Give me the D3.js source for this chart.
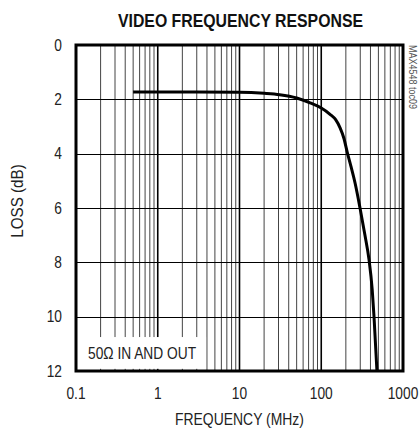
<!DOCTYPE html>
<html>
<head>
<meta charset="utf-8">
<script src="https://cdn.jsdelivr.net/npm/d3@7"></script>
<style>
  body { margin: 0; background: #fff; }
  text { font-family: "Liberation Sans", Arial, sans-serif; fill: #222; }
</style>
</head>
<body>
<div id="chart"></div>
<script>
// curve: frequency (MHz) and loss (dB)
const freq = [0.5, 1, 3, 10, 20, 31, 50, 73, 100, 128, 150, 170, 190, 208, 230, 260, 298, 340, 384, 420, 442, 480];
const loss = [1.73, 1.73, 1.73, 1.74, 1.78, 1.83, 1.95, 2.13, 2.32, 2.55, 2.75, 3.05, 3.45, 3.95, 4.45, 5.1, 6.0, 6.95, 7.9, 9.0, 10, 12];

const xTicks = [0.1, 1, 10, 100, 1000];
const xTickLabels = ['0.1', '1', '10', '100', '1000'];
const yTicks = [0, 2, 4, 6, 8, 10, 12];

const width = 419;
const height = 430;
const margin = { top: 45, right: 16, bottom: 59, left: 76 };
const w = width - margin.left - margin.right;
const h = height - margin.top - margin.bottom;

const svg = d3.select('#chart')
  .append('svg')
  .attr('width', width)
  .attr('height', height);

const g = svg.append('g')
  .attr('transform', `translate(${margin.left},${margin.top})`);

const x = d3.scaleLog().domain([0.1, 1000]).range([0, w]);
const y = d3.scaleLinear().domain([0, 12]).range([0, h]);

// narrow text: the original uses a condensed face, so squeeze horizontally
function label(parent, px, py, str, size, sx, anchor, rot) {
  return parent.append('text')
    .attr('transform', `translate(${px},${py})${rot ? ` rotate(${rot})` : ''} scale(${sx},1)`)
    .style('font-size', size + 'px')
    .style('text-anchor', anchor || 'start')
    .text(str);
}

// minor vertical grid (2..9 in every decade) + decade lines
const minor = [];
[0.1, 1, 10, 100].forEach(d => {
  for (let k = 2; k <= 9; k++) minor.push(d * k);
});
g.selectAll('.vminor')
  .data(minor)
  .enter()
  .append('line')
  .attr('x1', d => x(d))
  .attr('x2', d => x(d))
  .attr('y1', 0)
  .attr('y2', h)
  .style('stroke', '#444')
  .style('stroke-width', 1);

g.selectAll('.vmajor')
  .data([1, 10, 100])
  .enter()
  .append('line')
  .attr('x1', d => x(d))
  .attr('x2', d => x(d))
  .attr('y1', 0)
  .attr('y2', h)
  .style('stroke', '#000')
  .style('stroke-width', 1.6);

g.selectAll('.hgrid')
  .data(yTicks.slice(1, -1))
  .enter()
  .append('line')
  .attr('x1', 0)
  .attr('x2', w)
  .attr('y1', d => Math.round(y(d)) + 0.5)
  .attr('y2', d => Math.round(y(d)) + 0.5)
  .style('stroke', '#000')
  .style('stroke-width', 1);

// annotation box
g.append('rect')
  .attr('x', 2)
  .attr('y', y(10.75))
  .attr('width', x(3.9) - 2)
  .attr('height', y(11.92) - y(10.75))
  .style('fill', '#fff');

label(g, 12, y(11.55), '50Ω IN AND OUT', 16, 0.86);

// curve
const line = d3.line()
  .x((d, i) => x(freq[i]))
  .y((d, i) => y(loss[i]))
  .curve(d3.curveMonotoneX);

g.append('path')
  .datum(freq)
  .attr('d', line)
  .style('fill', 'none')
  .style('stroke', '#000')
  .style('stroke-width', 3);

// frame
g.append('rect')
  .attr('x', 0)
  .attr('y', 0)
  .attr('width', w)
  .attr('height', h)
  .style('fill', 'none')
  .style('stroke', '#000')
  .style('stroke-width', 3);

// y tick labels
yTicks.forEach(d => label(g, -14, y(d) + 5.5, d, 16, 0.86, 'end'));

// x tick labels
xTicks.forEach((d, i) => label(g, x(d), h + 28, xTickLabels[i], 16, 0.86, 'middle'));

// titles
label(svg, margin.left + w / 2 + 1, 27, 'VIDEO FREQUENCY RESPONSE', 18, 0.88, 'middle')
  .style('font-weight', 'bold')
  .style('fill', '#111');

label(svg, margin.left + w / 2, 425, 'FREQUENCY (MHz)', 17, 0.82, 'middle');

label(svg, 23, 201, 'LOSS (dB)', 16, 0.95, 'middle', -90);

label(svg, 409, 45, 'MAX4548 toc09', 10, 0.9, 'start', 90)
  .style('fill', '#555');
</script>
</body>
</html>
